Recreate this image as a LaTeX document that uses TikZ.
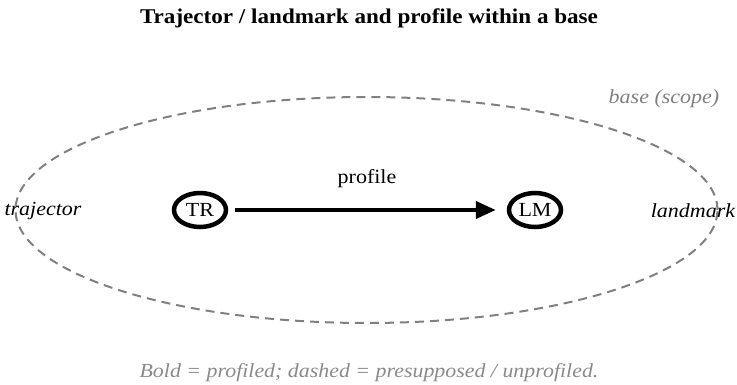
\documentclass[tikz,border=0pt]{standalone}
\usepackage{fontspec}
\setmainfont[FakeStretch=1.1]{Liberation Serif}
\usetikzlibrary{shapes.geometric,arrows.meta}
\definecolor{dashgray}{HTML}{808080}
\definecolor{notegray}{HTML}{8A8A8A}
\tikzset{
  role/.style={ellipse, draw=black, line width=4.5pt, minimum width=52pt, minimum height=34pt, inner sep=0pt, font=\fontsize{20}{23}\selectfont},
  sidelabel/.style={font=\fontsize{20}{23}\selectfont\itshape, inner sep=0pt},
  basebox/.style={draw=dashgray, dash pattern=on 9pt off 6pt, line width=2pt},
}
\begin{document}
\begin{tikzpicture}[x=1pt,y=-1pt]
\useasboundingbox (0,0) rectangle (737,385);
\node[font=\fontsize{21}{24}\selectfont\bfseries] (title) at (369,18) {Trajector / landmark and profile within a base};
\draw[basebox] (366.5,210) ellipse [x radius=351pt, y radius=113pt];
\node[sidelabel, text=dashgray] (base) at (664,99) {base (scope)};
\node[role] (TR) at (200,210) {TR};
\node[role] (LM) at (535,210) {LM};
\draw[line width=4pt, shorten <=7pt, shorten >=11pt, -{Triangle[length=20pt,width=17pt]}] (TR) -- (LM);
\node[font=\fontsize{20}{23}\selectfont, inner sep=0pt] (prof) at (367,179) {profile};
\node[sidelabel] (traj) at (43,211) {trajector};
\node[sidelabel] (land) at (693,211) {landmark};
\node[font=\fontsize{19.9}{23}\selectfont\itshape, text=notegray] (note) at (369,373) {Bold = profiled; dashed = presupposed / unprofiled.};
\end{tikzpicture}
\end{document}
